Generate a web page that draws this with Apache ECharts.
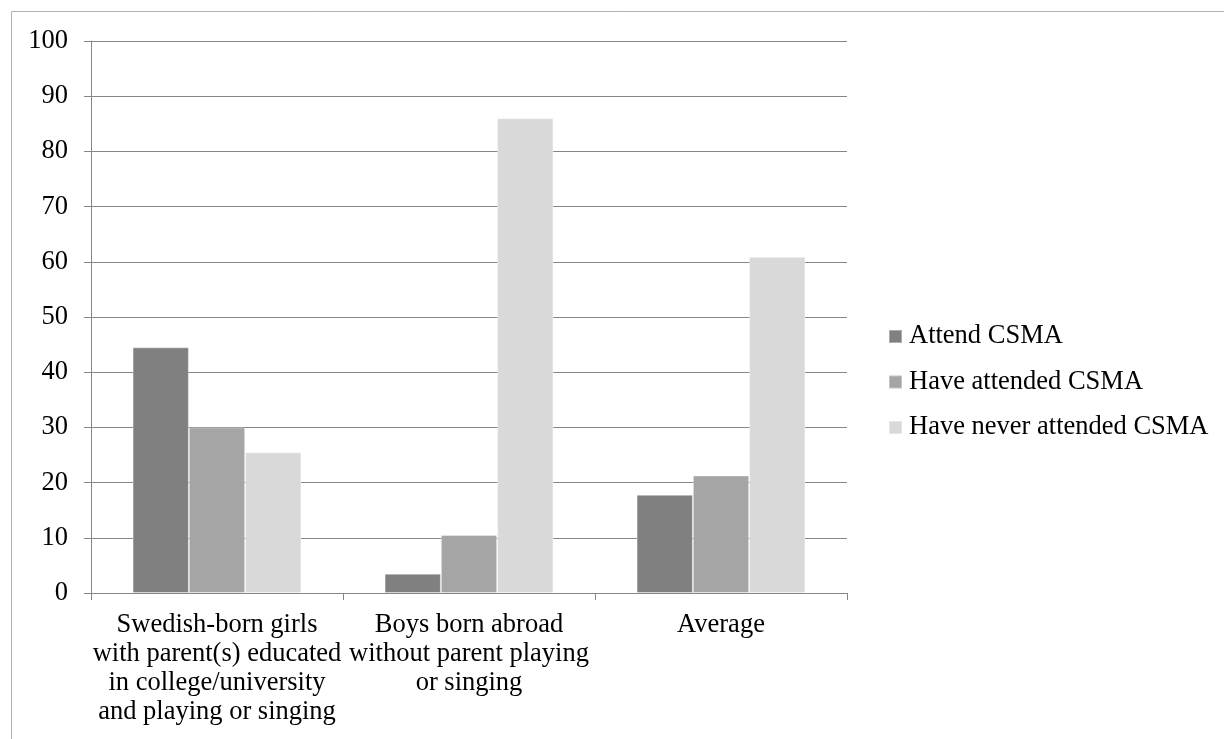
<!DOCTYPE html>
<html>
<head>
<meta charset="utf-8">
<script src="https://cdn.jsdelivr.net/npm/echarts@6/dist/echarts.min.js"></script>
<style>
  html, body { margin: 0; padding: 0; background: #fff; }
  #chart { width: 1224px; height: 739px; }
</style>
</head>
<body>
<div id="chart"></div>
<script>
// Share of pupils by group and CSMA attendance (percent)
const categories = [
  'Swedish-born girls\nwith parent(s) educated\nin college/university\nand playing or singing',
  'Boys born abroad\nwithout parent playing\nor singing',
  'Average'
];
const seriesNames = ['Attend CSMA', 'Have attended CSMA', 'Have never attended CSMA'];
const attend = [44.5, 3.5, 17.8];
const haveAttended = [30.0, 10.5, 21.3];
const neverAttended = [25.5, 86.0, 60.9];
const yTicks = { min: 0, max: 100, interval: 10 };

const colors = ['#808080', '#a5a5a5', '#d9d9d9'];
const font = '"Liberation Serif", "Times New Roman", serif';
const values = [attend, haveAttended, neverAttended];

const chart = echarts.init(document.getElementById('chart'), null, { renderer: 'canvas' });
chart.setOption({
  backgroundColor: '#ffffff',
  animation: false,
  color: colors,
  graphic: [{
    type: 'rect',
    shape: { x: 11.5, y: 11.5, width: 1400, height: 900 },
    style: { fill: 'none', stroke: '#b0b0b0', lineWidth: 1 },
    silent: true,
    z: -1
  }],
  grid: { left: 91, right: 377, top: 41, bottom: 146, containLabel: false },
  legend: {
    orient: 'vertical',
    left: 888,
    top: 323,
    padding: 0,
    itemWidth: 13,
    itemHeight: 13,
    itemGap: 18.5,
    icon: 'rect',
    textStyle: { fontFamily: font, fontSize: 26.5, color: '#000', padding: [0, 0, 0, 2] },
    data: seriesNames
  },
  xAxis: {
    type: 'category',
    data: categories,
    axisLine: { lineStyle: { color: '#868686', width: 1 } },
    axisTick: { show: true, alignWithLabel: false, length: 7, lineStyle: { color: '#868686' } },
    axisLabel: {
      interval: 0,
      hideOverlap: false,
      margin: 18,
      fontFamily: font,
      fontSize: 26.5,
      lineHeight: 29,
      color: '#000',
      align: 'center'
    }
  },
  yAxis: {
    type: 'value',
    min: yTicks.min,
    max: yTicks.max,
    interval: yTicks.interval,
    axisLine: { show: true, lineStyle: { color: '#868686', width: 1 } },
    axisTick: { show: true, length: 7, lineStyle: { color: '#868686' } },
    splitLine: { show: true, lineStyle: { color: '#868686', width: 1 } },
    axisLabel: { margin: 23, fontFamily: font, fontSize: 26.5, color: '#000' }
  },
  series: seriesNames.map((name, i) => ({
    name: name,
    type: 'bar',
    data: values[i],
    barGap: '0%',
    barCategoryGap: '33%',
    itemStyle: { color: colors[i], borderColor: 'rgba(255,255,255,0.35)', borderWidth: 1 },
    z: 3
  }))
});
</script>
</body>
</html>
